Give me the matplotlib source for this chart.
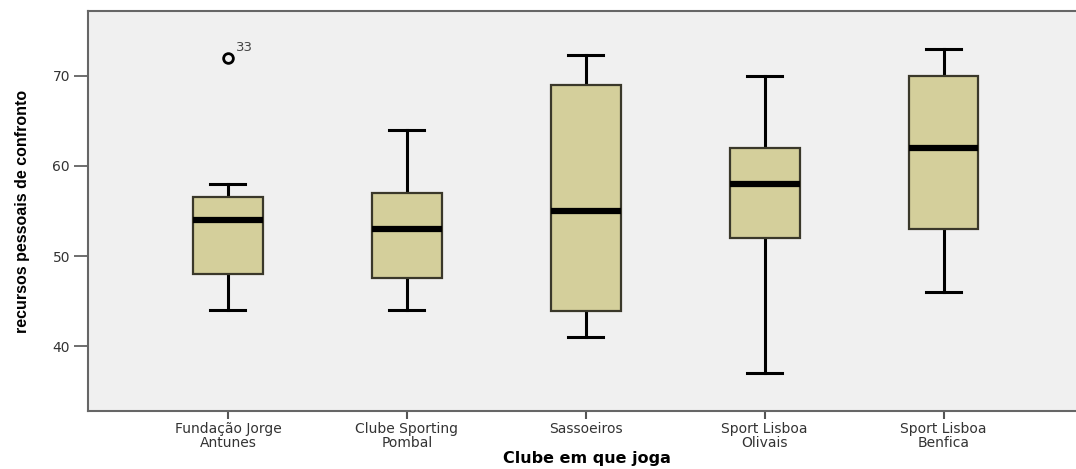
import matplotlib.pyplot as plt

clubs = ['Fundação Jorge\nAntunes', 'Clube Sporting\nPombal', 'Sassoeiros',
         'Sport Lisboa\nOlivais', 'Sport Lisboa\nBenfica']
whislo = [44, 44, 41, 37, 46]
q1 = [48, 47.6, 43.9, 52, 53]
med = [54, 53, 55, 58, 62]
q3 = [56.6, 57, 69, 62, 70]
whishi = [58, 64, 72.3, 70, 73]
outliers = [[72], [], [], [], []]
outlier_ids = [['33'], [], [], [], []]

stats = []
for i in range(len(clubs)):
    stats.append({'whislo': whislo[i], 'q1': q1[i], 'med': med[i], 'q3': q3[i],
                  'whishi': whishi[i], 'fliers': outliers[i]})

fig = plt.figure(figsize=(10.76, 4.69), dpi=100)
fig.patch.set_facecolor('white')
ax = fig.add_axes([0.0818, 0.1237, 0.9182, 0.8528])
ax.set_facecolor('#f0f0f0')

pos = list(range(1, len(clubs) + 1))
ax.bxp(stats, positions=pos, widths=0.39, patch_artist=True, capwidths=0.195,
       boxprops=dict(facecolor='#d4cf9b', edgecolor='#3a382a', linewidth=1.6, zorder=3),
       medianprops=dict(color='black', linewidth=4.5, zorder=4),
       whiskerprops=dict(color='black', linewidth=2.2),
       capprops=dict(color='black', linewidth=2.2),
       flierprops=dict(marker='o', markersize=7, markerfacecolor='none',
                       markeredgecolor='black', markeredgewidth=2))

for i, ids in enumerate(outlier_ids):
    for v, lab in zip(outliers[i], ids):
        ax.annotate(lab, (pos[i], v), xytext=(6, 5), textcoords='offset points',
                    fontsize=9.5, color='#444444', family='DejaVu Sans')

ax.set_xlim(0.218, 5.74)
ax.set_ylim(32.8, 77.2)
ax.set_yticks([40, 50, 60, 70])
ax.set_xticks(pos)
ax.set_xticklabels(clubs, fontsize=10, color='#333333', family='DejaVu Sans',
                   linespacing=0.95)
for lab in ax.get_yticklabels():
    lab.set_fontsize(10)
    lab.set_color('#333333')
    lab.set_family('DejaVu Sans')
ax.tick_params(axis='y', length=10, width=1.2, color='#555555', pad=3)
ax.tick_params(axis='x', length=6, width=1.5, color='#555555', pad=2)

for s in ['left', 'bottom', 'top']:
    ax.spines[s].set_color('#666666')
    ax.spines[s].set_linewidth(1.5)
ax.spines['right'].set_visible(False)

ax.set_ylabel('recursos pessoais de confronto', fontsize=11.5, fontweight='bold',
              family='Liberation Sans')
ax.yaxis.set_label_coords(-0.059, 0.5)
ax.set_xlabel('Clube em que joga', fontsize=11.5, fontweight='bold',
              family='DejaVu Sans')
ax.xaxis.set_label_coords(0.505, -0.1)

fig.savefig('out.png', dpi=100)
